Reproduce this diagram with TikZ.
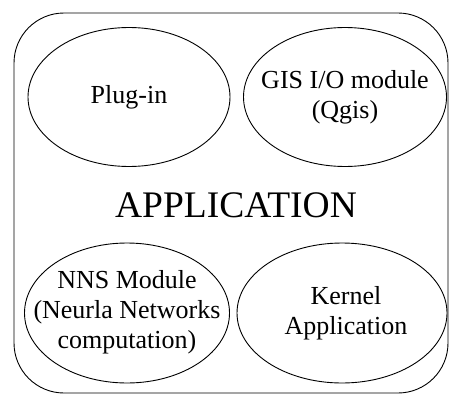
\documentclass[tikz,border=0pt]{standalone}
\usepackage{fontspec}
\setmainfont{Liberation Serif}
\usetikzlibrary{shapes.geometric}
\begin{document}
\begin{tikzpicture}[x=1pt,y=-1pt,
  part/.style={draw, line width=0.9pt, ellipse, inner sep=0pt},
  lbl/.style={align=center, inner sep=0pt, font=\fontsize{26}{30}\selectfont},
  frame/.style={draw, line width=0.9pt, rounded corners=50pt}]
\useasboundingbox (0,0) rectangle (449,396);
\draw[frame] (14,13) rectangle (448,393);
\node[part, minimum width=202pt, minimum height=139pt] (plug) at (129,97) {};
\node[part, minimum width=203pt, minimum height=139pt] (gis) at (345,97) {};
\node[part, minimum width=205pt, minimum height=140pt] (nns) at (127,313) {};
\node[part, minimum width=210pt, minimum height=140pt] (kernel) at (342,313) {};
\node[lbl] (plugt) at (plug.center) {Plug-in};
\node[lbl] (gist) at (gis.center) {GIS I/O module\\(Qgis)};
\node[lbl] (nnst) at ([yshift=1pt]nns.center) {NNS Module\\(Neurla Networks\\computation)};
\node[lbl] (kernelt) at ([xshift=4pt]kernel.center) {Kernel\\Application};
\node[font=\fontsize{37.5}{40}\selectfont] (app) at (236,205) {APPLICATION};
\end{tikzpicture}
\end{document}
